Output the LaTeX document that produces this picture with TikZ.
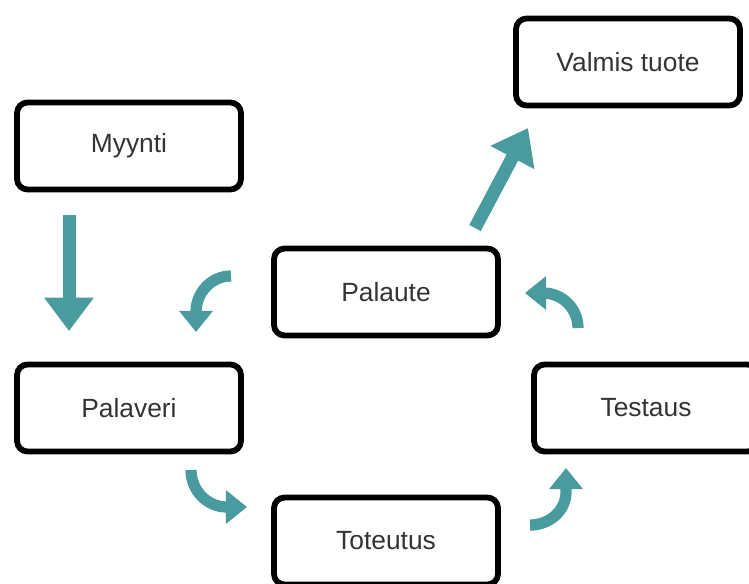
\documentclass[tikz,border=0pt]{standalone}
\usepackage{fontspec}
\setmainfont{Liberation Sans}
\usepackage{tikz}
\usetikzlibrary{arrows.meta,calc,positioning}
\definecolor{teal}{RGB}{74,155,160}

\begin{document}
\begin{tikzpicture}[x=0.02cm,y=-0.02cm,
		box/.style={draw=black,line width=3.3pt,rounded corners=6pt,fill=white,
			minimum width=4.48cm,minimum height=1.74cm,align=center,
			text=black!80,font=\fontsize{15}{18}\selectfont},
		bigarrow/.style={draw=teal,line width=7.4pt,-{Triangle[width=27pt,length=19pt]}},
		smallarrow/.style={draw=teal,line width=6.4pt,-{Triangle[width=18.5pt,length=12pt]}}]
				\useasboundingbox (0,0) rectangle (749,583);
				\clip (0,0) rectangle (749,583);
				\node[box] (myynti) at (129,146) {Myynti};
				\node[box] (valmis) at (628,62) {Valmis tuote};
				\node[box] (palaute) at (386,292) {Palaute};
				\node[box] (palaveri) at (129,408) {Palaveri};
				\node[box] (testaus) at (646,408) {Testaus};
				\node[box] (toteutus) at (386,541) {Toteutus};
				\coordinate (m_a) at (69,215);
				\coordinate (m_b) at (69,331);
				\coordinate (v_a) at (475,228);
				\coordinate (v_b) at (528,128);
				\coordinate (p_a) at (231,276);
				\coordinate (p_b) at (196,312);
				\coordinate (p_c) at (196,332);
				\coordinate (t_a) at (191,470);
				\coordinate (t_b) at (227,507);
				\coordinate (t_c) at (247,507);
				\coordinate (s_a) at (530,525);
				\coordinate (s_b) at (566,492);
				\coordinate (s_c) at (566,468);
				\coordinate (f_a) at (578,328);
				\coordinate (f_b) at (543,293);
				\coordinate (f_c) at (525,293);
				\draw[bigarrow] (m_a) -- (m_b);
				\draw[bigarrow] (v_a) -- (v_b);
				\draw[smallarrow] (p_a) to[out=180,in=90] (p_b) -- (p_c);
				\draw[smallarrow] (t_a) to[out=-90,in=180] (t_b) -- (t_c);
				\draw[smallarrow] (s_a) to[out=0,in=-90] (s_b) -- (s_c);
				\draw[smallarrow] (f_a) to[out=90,in=0] (f_b) -- (f_c);
			\end{tikzpicture}
\end{document}
